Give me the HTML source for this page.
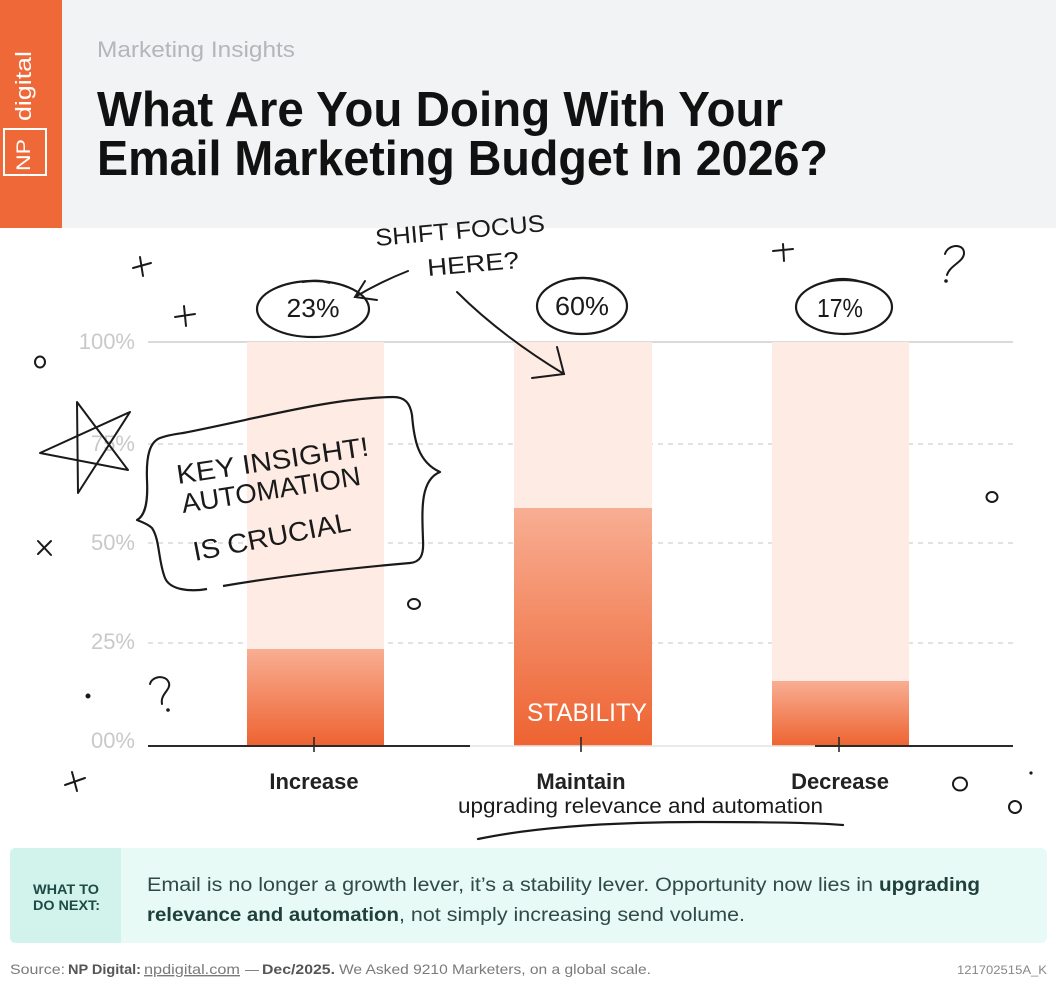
<!DOCTYPE html>
<html>
<head>
<meta charset="utf-8">
<style>
  html, body { margin: 0; padding: 0; background: #ffffff; }
  svg { display: block; }
  .hand { font-family: "Liberation Sans", "DejaVu Sans", sans-serif; }
</style>
</head>
<body>
<svg width="1056" height="992" viewBox="0 0 1056 992" xmlns="http://www.w3.org/2000/svg">
  <defs>
    <linearGradient id="barg" x1="0" y1="0" x2="0" y2="1">
      <stop offset="0" stop-color="#f8ae93"/>
      <stop offset="1" stop-color="#ee6331"/>
    </linearGradient>
  </defs>

  <rect x="0" y="0" width="1056" height="992" fill="#ffffff"/>
  <rect x="0" y="0" width="1056" height="228" fill="#f2f3f4"/>
  <rect x="0" y="0" width="62" height="228" fill="#ef6838"/>

  <!-- logo -->
  <text transform="translate(31,121) rotate(-90)" font-family="Liberation Sans, sans-serif" font-size="22" fill="#ffffff" textLength="70" lengthAdjust="spacingAndGlyphs">digital</text>
  <rect x="4" y="129" width="42" height="46" fill="none" stroke="#ffffff" stroke-width="2"/>
  <text transform="translate(30,171) rotate(-90)" font-family="Liberation Sans, sans-serif" font-size="19" fill="#ffffff" textLength="32" lengthAdjust="spacingAndGlyphs">NP</text>

  <!-- titles -->
  <text x="97" y="57" font-family="Liberation Sans, sans-serif" font-size="22" fill="#b3b6ba" textLength="198" lengthAdjust="spacingAndGlyphs">Marketing Insights</text>
  <text x="97" y="126" font-family="Liberation Sans, sans-serif" font-weight="bold" font-size="49" fill="#111111" textLength="686" lengthAdjust="spacingAndGlyphs">What Are You Doing With Your</text>
  <text x="97" y="175" font-family="Liberation Sans, sans-serif" font-weight="bold" font-size="49" fill="#111111" textLength="731" lengthAdjust="spacingAndGlyphs">Email Marketing Budget In 2026?</text>

  <!-- y labels -->
  <g font-family="Liberation Sans, sans-serif" font-size="22" fill="#c9c9c9" text-anchor="end">
    <text x="135" y="349">100%</text>
    <text x="135" y="451">75%</text>
    <text x="135" y="550">50%</text>
    <text x="135" y="649">25%</text>
    <text x="135" y="748">00%</text>
  </g>

  <!-- grid -->
  <line x1="148" y1="342" x2="1013" y2="342" stroke="#dadada" stroke-width="2"/>
  <g stroke="#d8d8d8" stroke-width="1.5" stroke-dasharray="5 5">
    <line x1="148" y1="444" x2="1013" y2="444"/>
    <line x1="148" y1="543" x2="1013" y2="543"/>
    <line x1="148" y1="643" x2="1013" y2="643"/>
  </g>

  <!-- bars background -->
  <g fill="#fdebe4">
    <rect x="247" y="342" width="137" height="404"/>
    <rect x="514" y="342" width="138" height="404"/>
    <rect x="772" y="342" width="137" height="404"/>
  </g>
  <rect x="247" y="649" width="137" height="97" fill="url(#barg)"/>
  <rect x="514" y="508" width="138" height="238" fill="url(#barg)"/>
  <rect x="772" y="681" width="137" height="65" fill="url(#barg)"/>

  <!-- baseline -->
  <line x1="148" y1="746" x2="470" y2="746" stroke="#2a2a2a" stroke-width="2"/>
  <line x1="470" y1="746" x2="815" y2="746" stroke="#e4e4e4" stroke-width="1.5"/>
  <line x1="815" y1="746" x2="1013" y2="746" stroke="#2a2a2a" stroke-width="2"/>
  <g stroke="#2a2a2a" stroke-width="1.6">
    <line x1="314" y1="737" x2="314" y2="752"/>
    <line x1="581" y1="737" x2="581" y2="752"/>
    <line x1="839" y1="737" x2="839" y2="752"/>
  </g>

  <text x="587" y="721" class="hand" font-size="25" fill="#ffffff" text-anchor="middle" textLength="120" lengthAdjust="spacingAndGlyphs">STABILITY</text>

  <!-- x labels -->
  <g font-family="Liberation Sans, sans-serif" font-weight="bold" font-size="22" fill="#222222" text-anchor="middle">
    <text x="314" y="789">Increase</text>
    <text x="581" y="789">Maintain</text>
    <text x="840" y="789">Decrease</text>
  </g>

  <text x="458" y="813" class="hand" font-size="21" fill="#1a1a1a" textLength="365" lengthAdjust="spacingAndGlyphs">upgrading relevance and automation</text>
  <path d="M478,839 C540,826 620,822 700,822 C770,822 820,823 843,825" fill="none" stroke="#1a1a1a" stroke-width="2.2" stroke-linecap="round"/>

  <!-- percentage ellipses -->
  <g fill="none" stroke="#1a1a1a" stroke-width="2.2">
    <ellipse cx="313" cy="309" rx="56" ry="28"/>
    <path d="M302,282 Q318,279 330,283" />
    <ellipse cx="582" cy="306" rx="45" ry="28"/>
    <path d="M572,279 Q588,276 600,281" />
    <ellipse cx="844" cy="307" rx="48" ry="27"/>
    <path d="M828,281 Q842,277 858,281" />
  </g>
  <g font-family="Liberation Sans, sans-serif" font-size="26" fill="#1a1a1a" text-anchor="middle">
    <text x="313" y="317" textLength="53" lengthAdjust="spacingAndGlyphs">23%</text>
    <text x="582" y="315" textLength="54" lengthAdjust="spacingAndGlyphs">60%</text>
    <text x="840" y="317" textLength="46" lengthAdjust="spacingAndGlyphs">17%</text>
  </g>

  <!-- SHIFT FOCUS HERE? -->
  <g class="hand" font-size="24" fill="#1a1a1a">
    <text transform="translate(376,246) rotate(-5)" textLength="170" lengthAdjust="spacingAndGlyphs">SHIFT FOCUS</text>
    <text transform="translate(428,276) rotate(-5)" textLength="92" lengthAdjust="spacingAndGlyphs">HERE?</text>
  </g>
  <g fill="none" stroke="#1a1a1a" stroke-width="2" stroke-linecap="round">
    <path d="M408,271 Q380,282 355,297"/>
    <path d="M365,281 L355,297 L377,300"/>
    <path d="M457,292 Q500,335 564,374"/>
    <path d="M557,347 L564,374 L532,378"/>
  </g>

  <!-- KEY INSIGHT callout -->
  <path d="M183,433 C260,418 330,398 393,397 C405,397 410,403 412,415 C414,440 418,462 440,472 C420,480 422,510 423,540 C424,556 420,562 410,563 C330,570 270,578 223,586 M207,589 C190,592 170,590 165,578 C158,560 160,540 152,528 C148,524 142,522 137,520 C146,515 148,500 147,480 C146,455 150,442 160,438 C168,435 176,434 183,433" fill="none" stroke="#1a1a1a" stroke-width="2.2" stroke-linejoin="round"/>
  <g class="hand" font-size="27" fill="#1a1a1a">
    <text transform="translate(178,484) rotate(-8.5)" textLength="194" lengthAdjust="spacingAndGlyphs">KEY INSIGHT!</text>
    <text transform="translate(183,513) rotate(-9)" textLength="181" lengthAdjust="spacingAndGlyphs">AUTOMATION</text>
    <text transform="translate(195,561) rotate(-11)" textLength="160" lengthAdjust="spacingAndGlyphs">IS CRUCIAL</text>
  </g>

  <!-- doodles -->
  <g fill="none" stroke="#1a1a1a" stroke-width="2" stroke-linecap="round" stroke-linejoin="round">
    <path d="M133,268 L151,263 M140,257 L143,276"/>
    <path d="M175,317 L195,314 M184,306 L186,326"/>
    <path d="M65,785 L85,778 M72,772 L77,791"/>
    <path d="M773,251 L793,249 M783,244 L784,261"/>
    <path d="M38,541 L51,555 M51,541 L38,554"/>
    <path d="M77,402 L78,493 L130,412 L40,453 L128,470 Z"/>
    <ellipse cx="40" cy="362" rx="5" ry="5.5"/>
    <ellipse cx="414" cy="604" rx="6" ry="5"/>
    <ellipse cx="992" cy="497" rx="5.5" ry="5"/>
    <ellipse cx="960" cy="784" rx="7" ry="6.5"/>
    <ellipse cx="1015" cy="807" rx="6" ry="6"/>
    <path d="M150,684 C152,676 166,674 169,683 C171,690 160,694 162,704"/>
    <path d="M945,254 C948,244 964,243 964,253 C964,262 950,265 947,275"/>
  </g>
  <g fill="#1a1a1a">
    <circle cx="168" cy="710" r="1.8"/>
    <circle cx="946" cy="281" r="1.8"/>
    <circle cx="88" cy="696" r="2.5"/>
    <circle cx="1031" cy="773" r="1.6"/>
  </g>

  <!-- What to do next box -->
  <rect x="10" y="848" width="1037" height="95" rx="6" fill="#e7faf6"/>
  <path d="M16,848 H121 V943 H16 Q10,943 10,937 V854 Q10,848 16,848 Z" fill="#d1f3ec"/>
  <g font-family="Liberation Sans, sans-serif" font-weight="bold" font-size="14" fill="#1f4a45">
    <text x="33" y="894" textLength="66" lengthAdjust="spacingAndGlyphs">WHAT TO</text>
    <text x="33" y="910" textLength="67" lengthAdjust="spacingAndGlyphs">DO NEXT:</text>
  </g>
  <g font-family="Liberation Sans, sans-serif" font-size="19" fill="#2f4a47">
    <text x="147" y="891" textLength="726" lengthAdjust="spacingAndGlyphs">Email is no longer a growth lever, it’s a stability lever. Opportunity now lies in</text>
    <text x="879" y="891" font-weight="bold" fill="#1f3f3b" textLength="101" lengthAdjust="spacingAndGlyphs">upgrading</text>
    <text x="147" y="921" font-weight="bold" fill="#1f3f3b" textLength="252" lengthAdjust="spacingAndGlyphs">relevance and automation</text>
    <text x="399" y="921" textLength="346" lengthAdjust="spacingAndGlyphs">, not simply increasing send volume.</text>
  </g>

  <!-- footer -->
  <g font-family="Liberation Sans, sans-serif" font-size="14" fill="#7a7a7a">
    <text x="10" y="974" textLength="55" lengthAdjust="spacingAndGlyphs">Source:</text>
    <text x="68" y="974" font-weight="bold" fill="#555555" textLength="73" lengthAdjust="spacingAndGlyphs">NP Digital:</text>
    <text x="144" y="974" text-decoration="underline" textLength="96" lengthAdjust="spacingAndGlyphs">npdigital.com</text>
    <text x="245" y="974">—</text>
    <text x="262" y="974" font-weight="bold" fill="#555555" textLength="73" lengthAdjust="spacingAndGlyphs">Dec/2025.</text>
    <text x="339" y="974" textLength="312" lengthAdjust="spacingAndGlyphs">We Asked 9210 Marketers, on a global scale.</text>
    <text x="1047" y="974" font-size="12" text-anchor="end" fill="#888888" textLength="90" lengthAdjust="spacingAndGlyphs">121702515A_K</text>
  </g>
</svg>
</body>
</html>
